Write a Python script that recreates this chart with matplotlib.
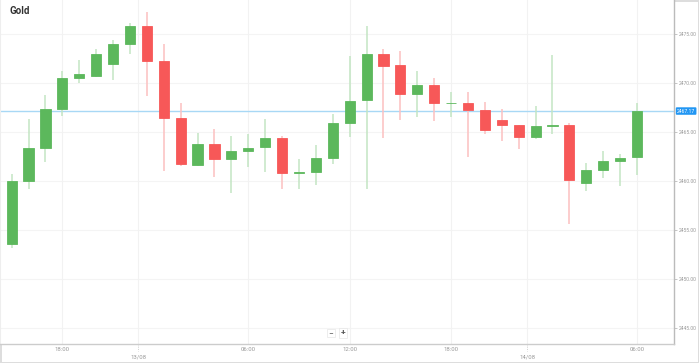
import matplotlib.pyplot as plt
from matplotlib.transforms import blended_transform_factory

# hourly candles
opens = [2453.6, 2460.06, 2463.4, 2467.35, 2470.5, 2470.78, 2472.0, 2473.98, 2475.88, 2472.3,
         2466.43, 2461.66, 2463.78, 2462.24, 2463.09, 2463.47, 2464.45, 2460.82, 2460.92, 2462.35,
         2465.95, 2468.27, 2473.02, 2471.84, 2468.88, 2469.8, 2467.97, 2467.99, 2467.28, 2466.26,
         2465.74, 2464.49, 2465.68, 2465.74, 2459.86, 2461.12, 2462.07, 2462.45]
closes = [2460.06, 2463.4, 2467.35, 2470.5, 2470.9, 2472.96, 2473.98, 2475.88, 2472.3, 2466.43,
          2461.77, 2463.78, 2462.28, 2463.09, 2463.43, 2464.45, 2460.82, 2460.9, 2462.35, 2465.95,
          2468.22, 2473.02, 2471.77, 2468.88, 2469.8, 2467.96, 2468.02, 2467.28, 2465.23, 2465.71,
          2464.49, 2465.67, 2465.74, 2460.13, 2461.12, 2462.07, 2462.41, 2467.17]
highs = [2460.75, 2466.36, 2468.8, 2471.26, 2472.4, 2473.47, 2474.4, 2476.2, 2477.3, 2473.98,
         2468.0, 2464.9, 2465.3, 2464.62, 2464.83, 2466.39, 2464.62, 2462.24, 2463.7, 2466.9,
         2472.8, 2475.85, 2473.47, 2473.3, 2471.26, 2470.57, 2469.14, 2469.08, 2468.12, 2467.35,
         2465.74, 2467.68, 2472.86, 2465.98, 2461.84, 2463.12, 2462.76, 2467.96]
lows = [2453.16, 2459.24, 2462.0, 2466.7, 2470.0, 2470.67, 2470.3, 2473.0, 2468.7, 2461.1,
        2461.6, 2461.6, 2460.47, 2458.78, 2461.5, 2460.98, 2459.2, 2459.2, 2459.65, 2461.77,
        2464.55, 2459.2, 2464.39, 2466.26, 2466.6, 2466.18, 2466.6, 2462.5, 2464.83, 2464.11,
        2463.26, 2464.3, 2464.86, 2455.64, 2459.04, 2460.37, 2459.52, 2460.64]

time_pos = [3, 14, 20, 26, 37]
time_labels = ['18:00', '06:00', '12:00', '18:00', '06:00']
day_pos = [7.5, 30.5]
day_labels = ['13/08', '14/08']
y_ticks = [2445, 2450, 2455, 2460, 2465, 2470, 2475]

up_col = '#5cb85c'
dn_col = '#f75858'
up_wick = '#c3e5c3'
dn_wick = '#fcc0c0'

plt.rcParams['font.family'] = ['Roboto', 'DejaVu Sans']

fig = plt.figure(figsize=(6.99, 3.63), dpi=100)
fig.patch.set_edgecolor('#dddddd')
fig.patch.set_linewidth(1.0)
ax = fig.add_axes([0, 19 / 363, 674 / 699, 344 / 363])

x = list(range(len(opens)))
cols = [up_col if c >= o else dn_col for o, c in zip(opens, closes)]
wcols = [up_wick if c >= o else dn_wick for o, c in zip(opens, closes)]

ax.vlines(x, lows, highs, colors=wcols, linewidth=1.1, zorder=2)
bottoms = [min(o, c) for o, c in zip(opens, closes)]
heights = [max(abs(c - o), 0.05) for o, c in zip(opens, closes)]
ax.bar(x, heights, bottom=bottoms, width=0.6, color=cols, edgecolor=cols,
       linewidth=0.6, zorder=3)

# grid
for v in y_ticks:
    ax.axhline(v, color='#f4f4f4', linewidth=0.8, zorder=0)
for p in time_pos + day_pos:
    ax.axvline(p, color='#f2f2f2', linewidth=0.8, zorder=0)

ax.set_xlim(-0.69, 39.19)
ax.set_ylim(2443.4, 2478.5)

ax.yaxis.tick_right()
ax.set_yticks(y_ticks)
ax.set_yticklabels(['%.2f' % v for v in y_ticks])
ax.tick_params(axis='y', labelsize=3.6, labelcolor='#999999', color='#bbbbbb',
               length=2, width=0.6, pad=1.2)
ax.set_xticks([])

ax.spines['top'].set_visible(False)
ax.spines['left'].set_color('#eeeeee')
ax.spines['right'].set_color('#bbbbbb')
ax.spines['bottom'].set_color('#cccccc')
ax.spines['right'].set_linewidth(1.0)
ax.spines['bottom'].set_linewidth(1.0)

# x labels
tr = blended_transform_factory(ax.transData, ax.transAxes)
for p, t in zip(time_pos, time_labels):
    ax.text(p, -0.008, t, transform=tr, ha='center', va='top', fontsize=4.3,
            color='#999999')
for p, t in zip(day_pos, day_labels):
    ax.plot([p, p], [0, -0.02], transform=tr, color='#bbbbbb', linewidth=0.6,
            linestyle=':', clip_on=False)
    ax.text(p, -0.03, t, transform=tr, ha='center', va='top', fontsize=4.3,
            color='#999999')

# current price line + label
last = closes[-1]
ax.axhline(last, color='#a8d8f5', linewidth=1.0, zorder=1)
ax.annotate('%.2f' % last, xy=(1.0, last), xycoords=('axes fraction', 'data'),
            xytext=(2.2, 0), textcoords='offset points', ha='left', va='center',
            fontsize=3.6, color='white', annotation_clip=False,
            bbox=dict(boxstyle='round,pad=0.25,rounding_size=0.2', fc='#2196f3', ec='none'))

# title
fig.text(10 / 699, 1 - 11 / 363, 'Gold', fontsize=7, fontweight='bold', color='#333333',
         ha='left', va='center')

# zoom buttons
fig.text(331 / 699, 1 - 333 / 363, '\u2212', fontsize=6, color='#555555', ha='center',
         va='center', bbox=dict(boxstyle='square,pad=0.15', fc='white', ec='#e6e6e6', lw=0.5))
fig.text(343 / 699, 1 - 333 / 363, '+', fontsize=6, fontweight='bold', color='#555555',
         ha='center', va='center',
         bbox=dict(boxstyle='square,pad=0.15', fc='white', ec='#e6e6e6', lw=0.5))

fig.savefig('out.png', dpi=100)
